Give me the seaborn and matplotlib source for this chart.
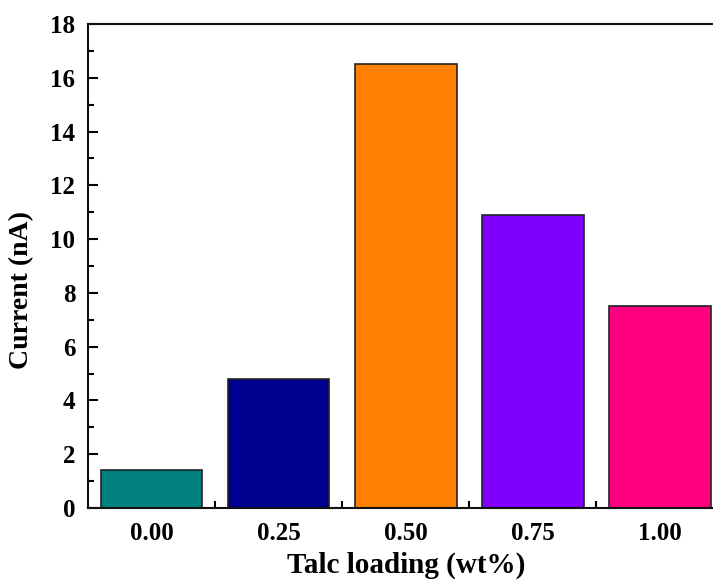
import matplotlib
matplotlib.use("Agg")
import matplotlib.pyplot as plt
import seaborn as sns
import numpy as np
import pandas as pd
from matplotlib.ticker import FixedLocator, MultipleLocator

categories = ["0.00", "0.25", "0.50", "0.75", "1.00"]
currents = [1.4, 4.8, 16.5, 10.9, 7.5]
bar_colors = ["#008080", "#000090", "#FF8000", "#8000FF", "#FF0080"]
y_ticks = [0, 2, 4, 6, 8, 10, 12, 14, 16, 18]

sns.set_style("ticks")
plt.rcParams["font.family"] = ["Liberation Serif", "DejaVu Serif"]
plt.rcParams["font.weight"] = "bold"
plt.rcParams["text.color"] = "black"
plt.rcParams["axes.labelcolor"] = "black"
plt.rcParams["xtick.color"] = "black"
plt.rcParams["ytick.color"] = "black"

df = pd.DataFrame({"loading": categories, "current": currents})

fig = plt.figure(figsize=(7.13, 5.8), dpi=100)
ax = fig.add_axes([88/713, 1-508/580, (723.5-88)/713, (508-24)/580])

sns.barplot(data=df, x="loading", y="current", hue="loading",
            palette=bar_colors, width=0.8, edgecolor="#222222",
            linewidth=1.2, legend=False, ax=ax, saturation=1)

ax.set_xlim(-0.5, len(categories) - 0.5)
ax.set_ylim(0, 18)
ax.set_yticks(y_ticks)
ax.yaxis.set_minor_locator(MultipleLocator(1))
ax.xaxis.set_minor_locator(FixedLocator(np.arange(0.5, len(categories) - 1, 1.0)))

for s in ax.spines.values():
    s.set_linewidth(1.5)
    s.set_color("#111111")

ax.tick_params(axis="y", which="major", direction="in", length=7, width=1.5,
               labelsize=18, pad=9, right=False, labelcolor="black")
ax.tick_params(axis="y", which="minor", direction="in", length=4, width=1.5)
ax.tick_params(axis="x", which="major", length=0, labelsize=18, pad=10, labelcolor="black")
ax.tick_params(axis="x", which="minor", direction="in", length=5, width=1.5, top=False)
for lbl in ax.get_xticklabels() + ax.get_yticklabels():
    lbl.set_fontweight("bold")

ax.set_xlabel("Talc loading (wt%)", fontsize=21, fontweight="bold", labelpad=5, color="black")
ax.set_ylabel("Current (nA)", fontsize=20, fontweight="bold", color="black")
ax.yaxis.set_label_coords(-0.085, 0.45)

fig.savefig("out.png", dpi=100)
